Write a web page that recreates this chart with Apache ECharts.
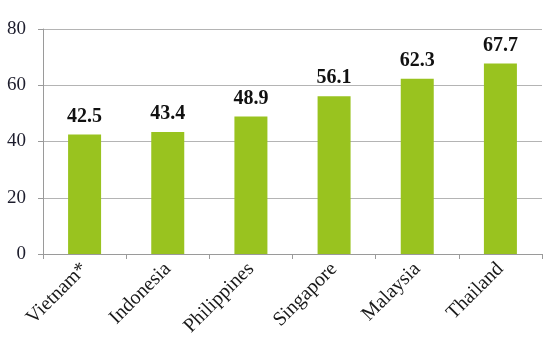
<!DOCTYPE html>
<html><head><meta charset="utf-8">
<script src="https://cdn.jsdelivr.net/npm/echarts@6/dist/echarts.min.js"></script>
<style>html,body{margin:0;padding:0;background:#fff}#c{width:550px;height:343px}</style>
</head><body><div id="c"></div>
<script>
const categories = ["Vietnam*", "Indonesia", "Philippines", "Singapore", "Malaysia", "Thailand"];
const values = [42.5, 43.4, 48.9, 56.1, 62.3, 67.7];
const yTicks = [0, 20, 40, 60, 80];

const chart = echarts.init(document.getElementById('c'), null, {renderer: 'canvas'});
chart.setOption({
  animation: false,
  backgroundColor: '#ffffff',
  grid: {left: 43, right: 8, top: 29, bottom: 89, containLabel: false},
  xAxis: {
    type: 'category',
    data: categories,
    axisLine: {show: true, lineStyle: {color: '#9a9a9a', width: 1}},
    axisTick: {show: true, length: 5, alignWithLabel: false, lineStyle: {color: '#9a9a9a'}},
    axisLabel: {rotate: 45, margin: 12, color: '#1a1a1a', fontFamily: 'Liberation Serif', fontSize: 20, interval: 0}
  },
  yAxis: {
    type: 'value',
    min: yTicks[0], max: yTicks[yTicks.length - 1], interval: 20,
    axisLine: {show: true, lineStyle: {color: '#9a9a9a', width: 1}},
    axisTick: {show: true, length: 5, lineStyle: {color: '#9a9a9a'}},
    splitLine: {show: true, lineStyle: {color: '#b4b4b4', width: 1}},
    axisLabel: {margin: 17, color: '#1c1c2c', fontFamily: 'Liberation Serif', fontSize: 19}
  },
  series: [{
    type: 'bar',
    data: values,
    barWidth: 33,
    itemStyle: {color: '#99c31f'},
    label: {show: true, position: 'top', distance: 8, color: '#111', fontFamily: 'Liberation Serif', fontWeight: 'bold', fontSize: 20, formatter: p => p.value.toFixed(1)}
  }]
});
</script></body></html>
